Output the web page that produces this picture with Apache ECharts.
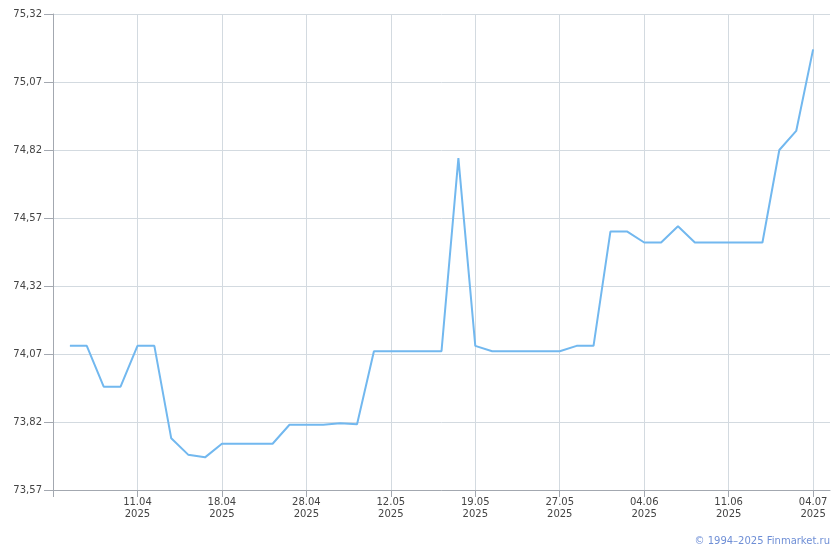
<!DOCTYPE html>
<html>
<head>
<meta charset="utf-8">
<script src="https://cdn.jsdelivr.net/npm/echarts@6/dist/echarts.min.js"></script>
<style>html,body{margin:0;padding:0;background:#fff}#c{width:840px;height:550px}</style>
</head>
<body>
<div id="c"></div>
<script>
// Category labels (only the labelled dates are known; the ends are padding slots)
const categories = ['',
  '', '', '', '', '11.04\n2025',
  '', '', '', '', '18.04\n2025',
  '', '', '', '', '28.04\n2025',
  '', '', '', '', '12.05\n2025',
  '', '', '', '', '19.05\n2025',
  '', '', '', '', '27.05\n2025',
  '', '', '', '', '04.06\n2025',
  '', '', '', '', '11.06\n2025',
  '', '', '', '', '04.07\n2025',
  ''];
const values = ['-',
  74.10, 74.10, 73.95, 73.95, 74.10,
  74.10, 73.76, 73.70, 73.69, 73.74,
  73.74, 73.74, 73.74, 73.81, 73.81,
  73.81, 73.815, 73.812, 74.08, 74.08,
  74.08, 74.08, 74.08, 74.79, 74.10,
  74.08, 74.08, 74.08, 74.08, 74.08,
  74.10, 74.10, 74.52, 74.52, 74.48,
  74.48, 74.54, 74.48, 74.48, 74.48,
  74.48, 74.48, 74.82, 74.89, 75.19,
  '-'];
const yMin = 73.57, yMax = 75.32, yStep = 0.25;

const chart = echarts.init(document.getElementById('c'), null, {renderer: 'canvas'});
const font = 'DejaVu Sans, Verdana, sans-serif';
const every5 = (i) => i % 5 === 0 && i < categories.length - 1;
chart.setOption({
  animation: false,
  grid: {left: 53, right: 10, top: 14, bottom: 60, containLabel: false},
  xAxis: {
    type: 'category',
    data: categories,
    boundaryGap: false,
    axisLine: {lineStyle: {color: '#a3a8b0', width: 1}},
    axisTick: {show: true, interval: every5, length: 7, lineStyle: {color: '#a3a8b0'}},
    axisLabel: {interval: every5, color: '#444', fontFamily: font, fontSize: 10, lineHeight: 12, margin: 6},
    splitLine: {show: true, interval: every5, lineStyle: {color: '#d3dae0', width: 1}}
  },
  yAxis: {
    type: 'value',
    min: yMin, max: yMax, interval: yStep,
    axisLine: {show: true, lineStyle: {color: '#a3a8b0', width: 1}},
    axisTick: {show: true, length: 9, lineStyle: {color: '#a3a8b0'}},
    axisLabel: {color: '#444', fontFamily: font, fontSize: 10, margin: 11,
      formatter: v => v.toFixed(2).replace('.', ',')},
    splitLine: {show: true, lineStyle: {color: '#d3dae0', width: 1}}
  },
  series: [{
    type: 'line',
    data: values,
    showSymbol: false,
    connectNulls: false,
    lineStyle: {color: '#72b8ef', width: 2},
    itemStyle: {color: '#72b8ef'}
  }],
  graphic: [{
    type: 'text', right: 10, top: 536,
    style: {text: '© 1994–2025 Finmarket.ru', fill: '#6f8fd6', font: '10px ' + font}
  }]
});
</script>
</body>
</html>
